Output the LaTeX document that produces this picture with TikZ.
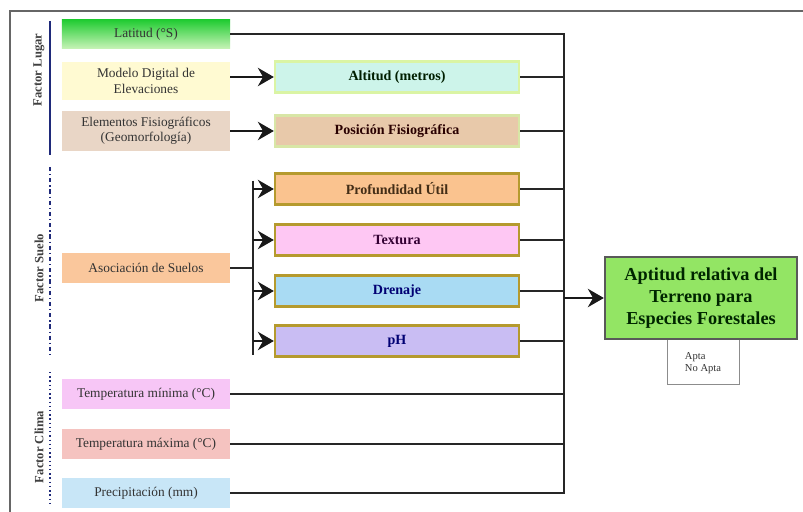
\documentclass[tikz,border=0pt]{standalone}
\usepackage{fontspec}
\setmainfont{Liberation Serif}
\usepackage{tikz}
\usetikzlibrary{arrows.meta,positioning}
\definecolor{latop}{HTML}{22CC33}
\definecolor{labot}{HTML}{C4F2B4}
\definecolor{modfill}{HTML}{FFFAD2}
\definecolor{elefill}{HTML}{E9D6C6}
\definecolor{asofill}{HTML}{FAC79C}
\definecolor{tminfill}{HTML}{F7C6F6}
\definecolor{tmaxfill}{HTML}{F5C3C0}
\definecolor{precfill}{HTML}{C8E6F7}
\definecolor{altfill}{HTML}{CDF4EA}
\definecolor{altline}{HTML}{DAF4A4}
\definecolor{posfill}{HTML}{E8C9AA}
\definecolor{posline}{HTML}{D8E6A6}
\definecolor{goldline}{HTML}{B59A2E}
\definecolor{proffill}{HTML}{FAC38F}
\definecolor{texfill}{HTML}{FEC7F3}
\definecolor{drefill}{HTML}{A9DBF3}
\definecolor{phfill}{HTML}{C9BDF3}
\definecolor{resfill}{HTML}{93E564}
\definecolor{navyline}{HTML}{1F2A7A}

\tikzset{
  leftbox/.style={rectangle,minimum width=4.2cm,inner sep=1pt,align=center,
    font=\fontsize{9.5}{11}\selectfont,text=black!80},
  midbox/.style={rectangle,minimum width=6.1cm,minimum height=0.78cm,line width=1.6pt,
    font=\bfseries\fontsize{10}{12}\selectfont},
  factor/.style={rotate=90,font=\bfseries\fontsize{9}{10}\selectfont,text=black!75},
  conn/.style={line width=1.2pt,black!85},
  bigarrow/.style={-{Stealth[length=4mm,width=4.6mm]},line width=1.2pt,black!90}
}

\begin{document}
\begin{tikzpicture}[x=0.025cm,y=-0.025cm]
\useasboundingbox[fill=white] (0,0) rectangle (803,512);
\draw[black!60,line width=1.2pt] (10,512)--(10,11)--(803,11);

% factores
\node[factor] (flugar) at (39,70) {Factor Lugar};
\draw[navyline,line width=1pt] (50,21)--(50,155);
\node[factor] (fsuelo) at (39,268) {Factor Suelo};
\draw[navyline,line width=1pt,dash dot] (50,167)--(50,356);
\node[factor] (fclima) at (39,447) {Factor Clima};
\draw[navyline,line width=1pt,dotted] (50,372)--(50,506);

% variables de entrada
\node[leftbox,top color=latop,bottom color=labot,minimum height=0.7cm] (lat) at (146,34) {Latitud (°S)};
\node[leftbox,fill=modfill,minimum height=0.95cm] (mod) at (146,81) {Modelo Digital de\\Elevaciones};
\node[leftbox,fill=elefill,minimum height=1.0cm] (ele) at (146,131) {Elementos Fisiográficos\\(Geomorfología)};
\node[leftbox,fill=asofill,minimum height=0.75cm] (aso) at (146,268) {Asociación de Suelos};
\node[leftbox,fill=tminfill,minimum height=0.75cm] (tmin) at (146,394) {Temperatura mínima (°C)};
\node[leftbox,fill=tmaxfill,minimum height=0.75cm] (tmax) at (146,444) {Temperatura máxima (°C)};
\node[leftbox,fill=precfill,minimum height=0.75cm] (prec) at (146,493) {Precipitación (mm)};

% variables derivadas
\node[midbox,fill=altfill,draw=altline,text=black!70!green!40!black] (alt) at (397,77) {Altitud (metros)};
\node[midbox,fill=posfill,draw=posline,text=black!60!red!40!black] (pos) at (397,131) {Posición Fisiográfica};
\node[midbox,fill=proffill,draw=goldline,text=black!65!brown] (prof) at (397,189) {Profundidad Útil};
\node[midbox,fill=texfill,draw=goldline,text=black!60!violet] (tex) at (397,240) {Textura};
\node[midbox,fill=drefill,draw=goldline,text=black!55!blue] (dre) at (397,291) {Drenaje};
\node[midbox,fill=phfill,draw=goldline,text=black!55!blue] (ph) at (397,341) {pH};

% resultado
\node[draw=black!45,fill=white,minimum width=1.8cm,minimum height=1.12cm,align=left,
  font=\fontsize{7.5}{9}\selectfont,text=black!80,anchor=north] (apta) at (703,339) {\\[-2pt]Apta\\No Apta};
\node[draw=black!65,fill=resfill,line width=1.6pt,minimum width=4.8cm,minimum height=2.05cm,
  align=center,font=\bfseries\fontsize{13}{15.5}\selectfont,text=black!85!green] (res) at (701,298)
  {Aptitud relativa del\\Terreno para\\Especies Forestales};

% conexiones
\coordinate (bustop) at (564,34);
\coordinate (busbot) at (564,493);
\coordinate (split) at (253,268);
\draw[conn] (lat.east)--(bustop)--(busbot)--(prec.east);
\draw[conn] (alt.east)--(alt.east-|bustop);
\draw[conn] (pos.east)--(pos.east-|bustop);
\draw[conn] (prof.east)--(prof.east-|bustop);
\draw[conn] (tex.east)--(tex.east-|bustop);
\draw[conn] (dre.east)--(dre.east-|bustop);
\draw[conn] (ph.east)--(ph.east-|bustop);
\draw[conn] (tmin.east)--(tmin.east-|bustop);
\draw[conn] (tmax.east)--(tmax.east-|bustop);
\draw[bigarrow] (res.west-|bustop)--(res.west);

\draw[bigarrow] (mod.east|-alt.west)--(alt.west);
\draw[bigarrow] (ele.east)--(pos.west);

\draw[conn] (aso.east)--(split);
\draw[conn,shorten <=-6,shorten >=-10] (split|-prof.west)--(split|-ph.west);
\foreach \t in {prof,tex,dre,ph}
  \draw[bigarrow] (split|-\t.west)--(\t.west);
\end{tikzpicture}
\end{document}
